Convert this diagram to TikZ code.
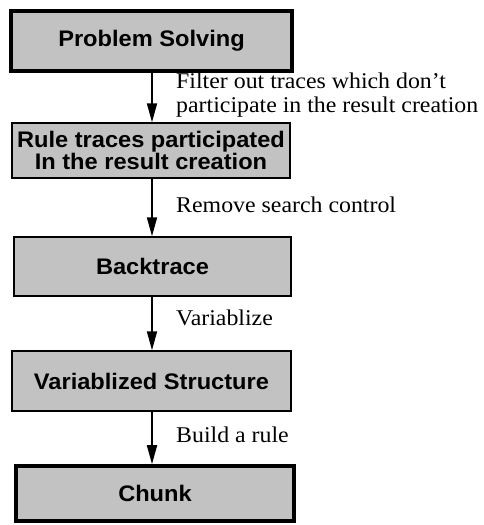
\documentclass[tikz,border=0pt]{standalone}
\usepackage{fontspec}
\setmainfont{Liberation Serif}[FakeStretch=1.06]
\setsansfont{Liberation Sans}[FakeStretch=1.05]
\usetikzlibrary{arrows.meta}
\definecolor{boxfill}{gray}{0.76}
\tikzset{
  stage/.style={draw=black, fill=boxfill, line width=1.4pt, inner sep=0pt,
    align=center, font=\sffamily\bfseries\fontsize{22.5}{22}\selectfont},
  heavy/.style={line width=3.6pt},
  flow/.style={line width=1.8pt, -{Triangle[width=10pt,length=19pt]}},
  note/.style={anchor=base west, inner sep=0pt,
    font=\rmfamily\fontsize{22.5}{24}\selectfont}
}
\begin{document}
\begin{tikzpicture}[x=1pt,y=-1pt]
  \useasboundingbox (0,0) rectangle (483,525);

  % processing stages
  \node[stage, heavy, minimum width=281pt, minimum height=60pt] (b1) at (151.5,41) {Problem Solving};
  \node[stage, minimum width=278pt, minimum height=55pt] (b2) at (151,150.5) {Rule traces participated\\In the result creation};
  \node[stage, minimum width=277pt, minimum height=59pt] (b3) at (152.5,266.5) {Backtrace};
  \node[stage, minimum width=279pt, minimum height=60pt] (b4) at (151.5,381) {Variablized Structure};
  \node[stage, heavy, minimum width=278pt, minimum height=55pt] (b5) at (155,493.5) {Chunk};

  % vertical flow axis
  \coordinate (ax) at (152,0);
  \draw[flow] (b1.south -| ax) -- (b2.north -| ax);
  \draw[flow] (b2.south -| ax) -- (b3.north -| ax);
  \draw[flow] (b3.south -| ax) -- (b4.north -| ax);
  \draw[flow] (b4.south -| ax) -- (b5.north -| ax);

  % transition labels
  \node[note] (l1a) at (176,88) {Filter out traces which don’t};
  \node[note] (l1b) at (176,112) {participate in the result creation};
  \node[note] (l2) at (176,212) {Remove search control};
  \node[note] (l3) at (176,325) {Variablize};
  \node[note] (l4) at (176,442) {Build a rule};
\end{tikzpicture}
\end{document}
